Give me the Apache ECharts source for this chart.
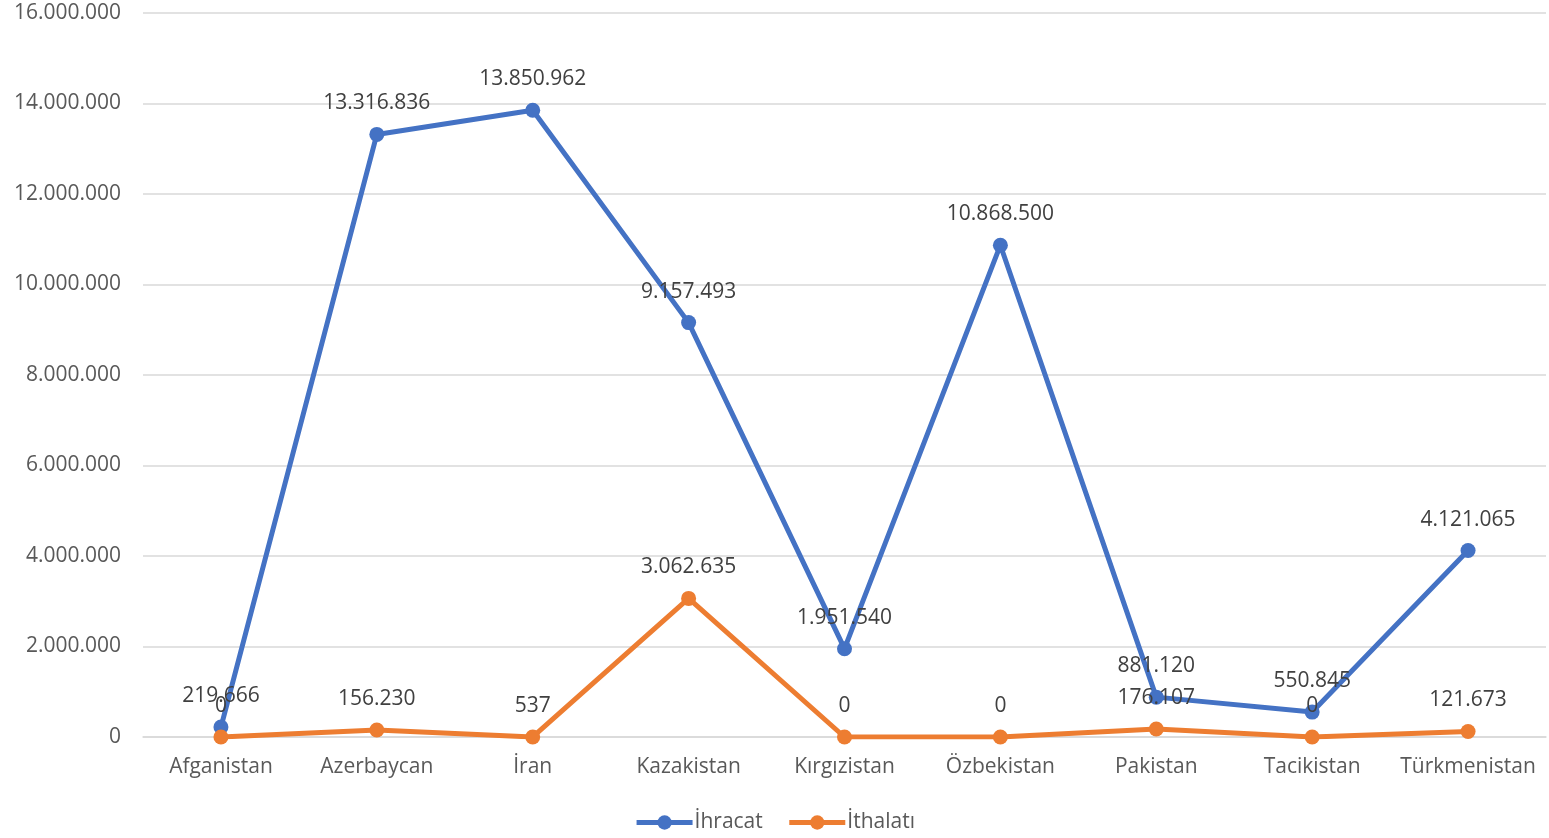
<!DOCTYPE html>
<html>
<head>
<meta charset="utf-8">
<script src="https://cdn.jsdelivr.net/npm/echarts@6/dist/echarts.min.js"></script>
<style>
  html, body { margin: 0; padding: 0; background: #fff; }
  #chart { width: 1549px; height: 838px; }
</style>
</head>
<body>
<div id="chart"></div>
<script>
// ülkeler
const categories = ["Afganistan", "Azerbaycan", "İran", "Kazakistan", "Kırgızistan", "Özbekistan", "Pakistan", "Tacikistan", "Türkmenistan"];
// ihracat değerleri
const ihracat = [219666, 13316836, 13850962, 9157493, 1951540, 10868500, 881120, 550845, 4121065];
// ithalat değerleri
const ithalati = [0, 156230, 537, 3062635, 0, 0, 176107, 0, 121673];
const seriesNames = ["İhracat", "İthalatı"];

// 1234567 -> 1.234.567
function fmt(v) {
  return String(Math.round(v)).replace(/\B(?=(\d{3})+(?!\d))/g, ".");
}

const textColor = "#595959";
const font = "Open Sans";
const fs = 21;

function lineSeries(name, data) {
  return {
    name: name,
    type: "line",
    data: data,
    symbol: "circle",
    symbolSize: 15,
    lineStyle: { width: 5 },
    label: {
      show: true,
      position: "top",
      distance: 13,
      color: "#404040",
      fontSize: fs,
      fontFamily: font,
      formatter: p => fmt(p.value)
    }
  };
}

const chart = echarts.init(document.getElementById("chart"));
chart.setOption({
  animation: false,
  color: ["#4472C4", "#ED7D31"],
  grid: {
    left: 143,
    right: 3,
    top: 13,
    bottom: 101,
    containLabel: false
  },
  legend: {
    data: seriesNames.map(n => ({ name: n, lineStyle: { width: 5 } })),
    bottom: 0,
    left: "center",
    itemWidth: 56,
    itemHeight: 18,
    itemGap: 24,
    lineStyle: { width: 5 },
    textStyle: { color: textColor, fontSize: fs, fontFamily: font, padding: [0, 0, 0, -3] }
  },
  xAxis: {
    type: "category",
    data: categories,
    boundaryGap: true,
    axisLine: { show: true, lineStyle: { color: "#d9d9d9", width: 1.5 } },
    axisTick: { show: false },
    axisLabel: { color: textColor, fontSize: fs, fontFamily: font, margin: 20, interval: 0 }
  },
  yAxis: {
    type: "value",
    min: 0,
    max: 16000000,
    interval: 2000000,
    axisLine: { show: false },
    axisTick: { show: false },
    splitLine: { lineStyle: { color: "#d9d9d9", width: 1.5 } },
    axisLabel: {
      color: textColor,
      fontSize: fs,
      fontFamily: font,
      margin: 22,
      formatter: fmt
    }
  },
  series: [lineSeries(seriesNames[0], ihracat), lineSeries(seriesNames[1], ithalati)]
});
</script>
</body>
</html>
